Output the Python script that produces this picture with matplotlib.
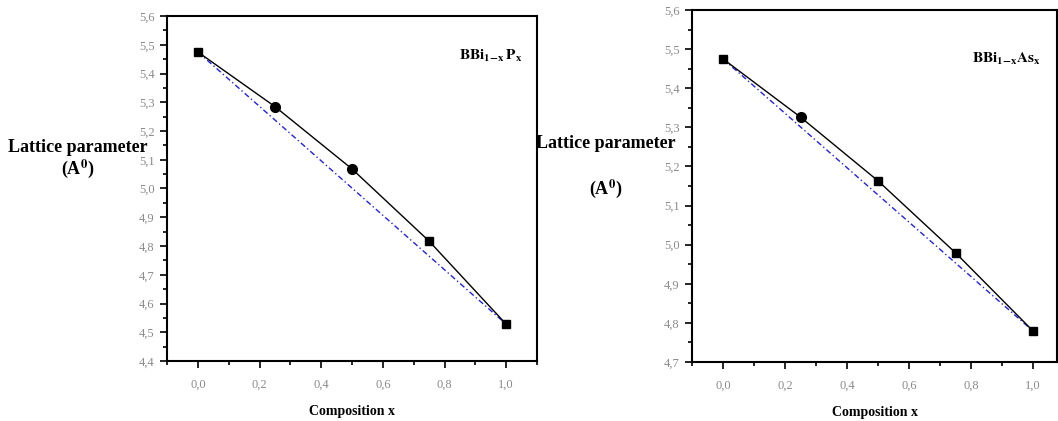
import matplotlib
matplotlib.use("Agg")
from matplotlib import pyplot as plt
from matplotlib.ticker import MultipleLocator, FuncFormatter

# composition x and lattice constants (Angstrom)
comp = [0.0, 0.25, 0.5, 0.75, 1.0]
a_bbip = [5.475, 5.285, 5.068, 4.817, 4.528]
a_bbias = [5.475, 5.326, 5.163, 4.979, 4.779]
marks_bbip = ["s", "o", "o", "s", "s"]
marks_bbias = ["s", "o", "s", "s", "s"]

plt.rcParams['font.family'] = ['Liberation Serif', 'DejaVu Serif']
plt.rcParams['mathtext.fontset'] = 'stix'

fig = plt.figure(figsize=(10.58, 4.21), dpi=100)
W, H = 1058, 421


def comma(v, pos):
    return f"{v:.1f}".replace(".", ",")


def panel(rect, y, marks, xmax, ylim):
    ax = fig.add_axes(rect)
    # Vegard line between the end compounds
    ax.plot([comp[0], comp[-1]], [y[0], y[-1]], color="#2020ee", lw=1.0,
            ls=(0, (4, 2, 1, 2)), zorder=2)
    ax.plot(comp, y, color="black", lw=1.0, zorder=3)
    for xi, yi, m in zip(comp, y, marks):
        ax.plot(xi, yi, marker=m, color="black", ms=6 if m == "s" else 7, zorder=4)
    ax.set_xlim(-0.1, xmax)
    ax.set_ylim(*ylim)
    ax.xaxis.set_major_locator(MultipleLocator(0.2))
    ax.xaxis.set_minor_locator(MultipleLocator(0.1))
    ax.yaxis.set_major_locator(MultipleLocator(0.1))
    ax.yaxis.set_minor_locator(MultipleLocator(0.05))
    ax.xaxis.set_major_formatter(FuncFormatter(comma))
    ax.yaxis.set_major_formatter(FuncFormatter(comma))
    ax.tick_params(which="both", direction="out", top=False, right=False,
                   labelsize=9, labelcolor="#8a8a8a", width=1.2)
    ax.tick_params(which="major", length=5)
    ax.tick_params(which="minor", length=3)
    ax.tick_params(axis="x", which="major", pad=8)
    ax.tick_params(axis="y", which="major", pad=4)
    for s in ax.spines.values():
        s.set_linewidth(1.5)
    ax.set_xlabel("Composition x", fontsize=10, fontweight="bold", labelpad=10)
    return ax


ax1 = panel([167 / W, 1 - 361 / H, 370 / W, 345 / H], a_bbip, marks_bbip, 1.1, (4.4, 5.6))
ax1.text(0.79, 0.872, r"$\mathbf{BBi}_{\mathbf{1\!-\!x}}\,\mathbf{P}_{\mathbf{x}}$",
         transform=ax1.transAxes, fontsize=11)

ax2 = panel([692 / W, 1 - 362 / H, 365 / W, 352 / H], a_bbias, marks_bbias, 1.077, (4.7, 5.6))
ax2.text(0.768, 0.85, r"$\mathbf{BBi}_{\mathbf{1\!-\!x}}\mathbf{As}_{\mathbf{x}}$",
         transform=ax2.transAxes, fontsize=11)

# y-axis captions placed in figure pixels
fig.text(78 / W, 1 - 148 / H, "Lattice parameter", ha="center", va="center",
         fontsize=13, fontweight="bold")
fig.text(78 / W, 1 - 169 / H, r"(A$^{\mathbf{0}}$)", ha="center", va="center",
         fontsize=13, fontweight="bold")
fig.text(606 / W, 1 - 144 / H, "Lattice parameter", ha="center", va="center",
         fontsize=13, fontweight="bold")
fig.text(606 / W, 1 - 189 / H, r"(A$^{\mathbf{0}}$)", ha="center", va="center",
         fontsize=13, fontweight="bold")

fig.savefig("out.png", dpi=100)
